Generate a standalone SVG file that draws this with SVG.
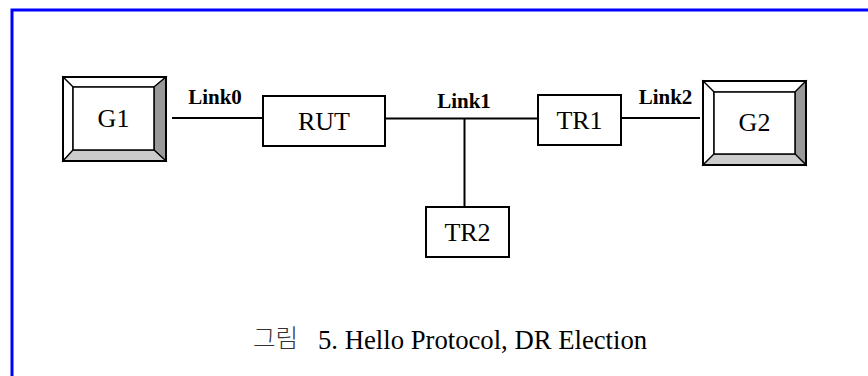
<svg xmlns="http://www.w3.org/2000/svg" width="868" height="376" viewBox="0 0 868 376">
  <style>
    .box { fill: #ffffff; stroke: #000000; stroke-width: 2; }
    .wire { stroke: #000000; stroke-width: 2; fill: none; }
    .name { font-family: "Liberation Serif", "Times New Roman", serif; font-size: 26px; fill: #000000; text-anchor: middle; }
    .link { font-family: "Liberation Serif", "Times New Roman", serif; font-size: 21px; font-weight: bold; fill: #000000; text-anchor: middle; }
    .cap { font-family: "Liberation Serif", "Times New Roman", serif; font-size: 26.7px; fill: #000000; }
    .capk { font-family: "Noto Sans CJK KR", "Noto Sans", sans-serif; font-size: 24.5px; font-weight: 300; fill: #333333; }
    .frame { stroke: #0000ff; stroke-width: 3; fill: none; }
    .lite { fill: #ffffff; stroke: #000000; stroke-width: 1.2; }
    .dark { fill: #999999; stroke: #000000; stroke-width: 1.2; }
    .mid { fill: #cccccc; stroke: #000000; stroke-width: 1.2; }
  </style>

  <rect width="868" height="376" fill="#ffffff"/>

  <!-- page frame: top and left rules only -->
  <path class="frame" d="M12,376 V10 H868"/>

  <!-- connectors -->
  <g id="connectors">
    <line class="wire" x1="172" y1="118" x2="263" y2="118"/>
    <line class="wire" x1="385" y1="118.5" x2="538" y2="118.5"/>
    <line class="wire" x1="464.5" y1="118.5" x2="464.5" y2="207"/>
    <line class="wire" x1="621" y1="118" x2="700" y2="118"/>
    <text class="link" x="215" y="104">Link0</text>
    <text class="link" x="464" y="108">Link1</text>
    <text class="link" x="665.5" y="104">Link2</text>
  </g>

  <!-- G1: bevelled gateway box -->
  <g id="G1">
    <polygon class="lite" points="63,77 166,77 154,87 73,87"/>
    <polygon class="lite" points="63,77 73,87 73,150 63,161"/>
    <polygon class="dark" points="166,77 166,161 154,150 154,87"/>
    <polygon class="mid" points="63,161 73,150 154,150 166,161"/>
    <rect x="73" y="87" width="81" height="63" fill="#ffffff" stroke="#000000" stroke-width="1.5"/>
    <rect x="63" y="77" width="103" height="84" fill="none" stroke="#000000" stroke-width="2"/>
    <text class="name" x="113.5" y="127">G1</text>
  </g>

  <g id="RUT">
    <rect class="box" x="263" y="96" width="122" height="50"/>
    <text class="name" x="324" y="130">RUT</text>
  </g>

  <g id="TR1">
    <rect class="box" x="538" y="95" width="83" height="50"/>
    <text class="name" x="579.5" y="129">TR1</text>
  </g>

  <g id="TR2">
    <rect class="box" x="426" y="207" width="83" height="50"/>
    <text class="name" x="467.5" y="241">TR2</text>
  </g>

  <!-- G2: bevelled gateway box -->
  <g id="G2">
    <polygon class="lite" points="703,81 806,81 795,92 714,92"/>
    <polygon class="lite" points="703,81 714,92 714,154 703,165"/>
    <polygon class="dark" points="806,81 806,165 795,154 795,92"/>
    <polygon class="mid" points="703,165 714,154 795,154 806,165"/>
    <rect x="714" y="92" width="81" height="62" fill="#ffffff" stroke="#000000" stroke-width="1.5"/>
    <rect x="703" y="81" width="103" height="84" fill="none" stroke="#000000" stroke-width="2"/>
    <text class="name" x="754.5" y="131">G2</text>
  </g>

  <!-- caption -->
  <g id="caption">
    <text class="capk" x="253" y="347">그림</text>
    <text class="cap" x="318" y="349">5. Hello Protocol, DR Election</text>
  </g>
</svg>
